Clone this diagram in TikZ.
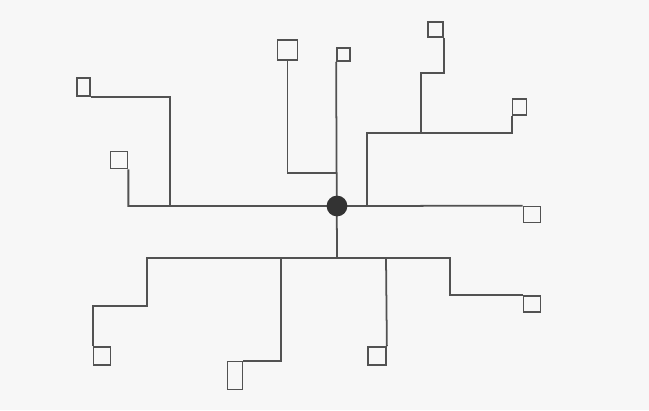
\documentclass[tikz,border=0pt]{standalone}
\begin{document}
\begin{tikzpicture}[
    x=0.02cm, y=-0.02cm,
    leaf/.style={draw, rectangle, minimum width=0.34cm, minimum height=0.34cm, inner sep=0pt},
    hub/.style={circle, fill=black!80, draw=black!80, minimum size=0.38cm, inner sep=0pt},
    line width=1pt, color=black!68, line join=miter
  ]
  \fill[black!3] (0,0) rectangle (649,410);
  \useasboundingbox (0,0) rectangle (649,410);
  % upper leaves
  \node[leaf, minimum width=0.26cm, minimum height=0.36cm] (l1) at (83.5,87) {};
  \node[leaf] (l2) at (119,160) {};
  \node[leaf, minimum size=0.40cm] (l3) at (287.5,50) {};
  \node[leaf, minimum size=0.26cm] (l4) at (343.5,54.5) {};
  \node[leaf, minimum size=0.30cm] (l5) at (435.5,29.5) {};
  \node[leaf, minimum width=0.28cm, minimum height=0.32cm] (l6) at (519.5,107) {};
  \node[leaf, minimum height=0.32cm] (l7) at (532,214.5) {};
  % lower leaves
  \node[leaf, minimum height=0.36cm] (l8) at (102,356) {};
  \node[leaf, minimum width=0.30cm, minimum height=0.56cm] (l9) at (235,375.5) {};
  \node[leaf, minimum size=0.36cm] (l10) at (377,356) {};
  \node[leaf, minimum height=0.32cm] (l11) at (532,304) {};
  % junctions
  \coordinate (k1) at (170,206);
  \coordinate (k3) at (337,173);
  \coordinate (k5) at (421,133);
  \coordinate (k6) at (367,206);
  \coordinate (q) at (337,258);
  \coordinate (k8) at (147,258);
  \coordinate (k9) at (281,258);
  \coordinate (k10) at (386,258);
  \coordinate (k11) at (450,258);
  % upper branches
  \draw (l2.south east) |- (k1) -- (k6) -- (l7.north west);
  \draw (l1.south east) -| (k1);
  \draw (l3.south) |- (k3);
  \draw (l4.south west) -- (q);
  \draw (l5.south east) -- ++(0,35) -| (k5);
  \draw (l6.south west) |- (k6 |- k5) -- (k6);
  % lower branches
  \draw (l8.north west) -- ++(0,-40) -| (k8) -- (k11) |- (l11.north west);
  \draw (l9.north east) -| (k9);
  \draw (l10.north east) -- (k10);
  \node[hub] (hub) at (337,206) {};
\end{tikzpicture}
\end{document}
